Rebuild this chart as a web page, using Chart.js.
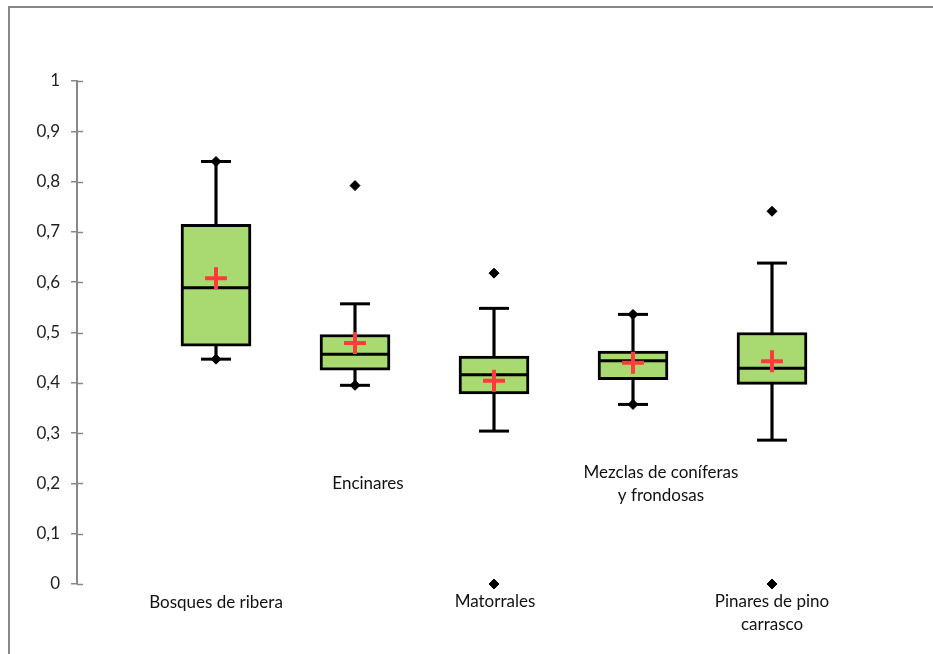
<!DOCTYPE html>
<html>
<head>
<meta charset="utf-8">
<script src="https://cdn.jsdelivr.net/npm/chart.js@4/dist/chart.umd.min.js"></script>
<style>
  html, body { margin: 0; padding: 0; background: #ffffff; }
  #wrap { width: 933px; height: 654px; position: relative; }
</style>
</head>
<body>
<div id="wrap"><canvas id="chart" width="933" height="654"></canvas></div>
<script>
// Box-plot statistics per forest type
const categories = ['Bosques de ribera', 'Encinares', 'Matorrales', 'Mezclas de coníferas\ny frondosas', 'Pinares de pino\ncarrasco'];
const positions = [1, 2, 3, 4, 5];
const minima = [0.447, 0.395, 0.000, 0.357, 0.000];
const whiskerLow = [0.447, 0.395, 0.304, 0.357, 0.286];
const q1 = [0.473, 0.425, 0.378, 0.406, 0.397];
const medians = [0.589, 0.457, 0.416, 0.444, 0.429];
const q3 = [0.715, 0.496, 0.453, 0.463, 0.500];
const whiskerHigh = [0.840, 0.557, 0.548, 0.536, 0.638];
const maxima = [0.840, 0.792, 0.618, 0.536, 0.741];
const means = [0.608, 0.479, 0.404, 0.440, 0.443];
const tickLabels = ['0', '0,1', '0,2', '0,3', '0,4', '0,5', '0,6', '0,7', '0,8', '0,9', '1'];

const FONT = 'Lato, "Open Sans", sans-serif';
const AXIS_GREY = '#888888';

const pts = (vals) => positions.map((x, i) => ({ x: x, y: vals[i] }));
const ranges = (lo, hi) => positions.map((x, i) => ({ x: x, y: [lo[i], hi[i]] }));

// Frame around the figure, crossing axis ticks and category captions
const decorations = {
  id: 'decorations',
  beforeDraw(chart) {
    const ctx = chart.ctx;
    ctx.save();
    ctx.strokeStyle = AXIS_GREY;
    ctx.lineWidth = 2;
    ctx.beginPath();
    ctx.moveTo(9, chart.height);
    ctx.lineTo(9, 7);
    ctx.lineTo(chart.width, 7);
    ctx.stroke();
    ctx.restore();
  },
  afterDraw(chart, args, opts) {
    const ctx = chart.ctx;
    const xs = chart.scales.x, ys = chart.scales.y;
    ctx.save();
    // inner half of each y tick
    ctx.strokeStyle = AXIS_GREY;
    ctx.lineWidth = 1.5;
    const ax = chart.chartArea.left;
    ys.ticks.forEach(t => {
      const py = Math.round(ys.getPixelForValue(t.value)) + 0.5;
      ctx.beginPath();
      ctx.moveTo(ax, py);
      ctx.lineTo(ax + 6, py);
      ctx.stroke();
    });
    // category captions
    ctx.fillStyle = '#111111';
    ctx.font = '17px ' + FONT;
    ctx.textAlign = 'center';
    ctx.textBaseline = 'middle';
    categories.forEach((name, i) => {
      const place = opts.placement[i];
      const cx = xs.getPixelForValue(positions[i]) + place.dx;
      const cy = ys.getPixelForValue(place.y);
      name.split('\n').forEach((line, k) => ctx.fillText(line, cx, cy + k * 23));
    });
    ctx.restore();
  }
};

new Chart(document.getElementById('chart'), {
  type: 'bar',
  data: {
    datasets: [
      { // whisker stems
        type: 'bar', data: ranges(whiskerLow, whiskerHigh), grouped: false,
        barThickness: 2.5, backgroundColor: '#000000', borderWidth: 0, order: 6
      },
      { // interquartile boxes
        type: 'bar', data: ranges(q1, q3), grouped: false,
        barThickness: 70, backgroundColor: '#a9d971', borderColor: '#000000',
        borderWidth: 3, borderSkipped: false, order: 5
      },
      { // whisker caps
        type: 'scatter', data: pts(whiskerHigh).concat(pts(whiskerLow)),
        pointStyle: 'line', radius: 15, borderColor: '#000000', borderWidth: 3, order: 4
      },
      { // medians
        type: 'scatter', data: pts(medians),
        pointStyle: 'line', radius: 34, borderColor: '#000000', borderWidth: 3, order: 3
      },
      { // minimum and maximum
        type: 'scatter', data: pts(minima).concat(pts(maxima)), clip: false,
        pointStyle: 'rectRot', radius: 5, backgroundColor: '#000000', borderColor: '#000000', borderWidth: 1, order: 2
      },
      { // means
        type: 'scatter', data: pts(means),
        pointStyle: 'cross', radius: 11, borderColor: '#ff3b3b', borderWidth: 4, order: 1
      }
    ]
  },
  options: {
    responsive: false,
    animation: false,
    events: [],
    layout: { autoPadding: false, padding: { top: 81, right: 22, bottom: 70, left: 0 } },
    plugins: {
      legend: { display: false },
      tooltip: { enabled: false },
      decorations: {
        placement: [
          { dx: 0, y: -0.037 },
          { dx: 13, y: 0.199 },
          { dx: 1, y: -0.035 },
          { dx: 28, y: 0.221 },
          { dx: 0, y: -0.035 }
        ]
      }
    },
    scales: {
      x: { type: 'linear', min: 0, max: 6, offset: false, display: false },
      y: {
        min: 0, max: 1,
        afterFit(scale) { scale.width = 77; },
        afterBuildTicks(scale) { scale.ticks = tickLabels.map((_, i) => ({ value: i / 10 })); },
        ticks: {
          padding: 11,
          color: '#222222',
          font: { family: FONT, size: 17 },
          callback: (v, i) => tickLabels[i]
        },
        grid: { drawOnChartArea: false, drawTicks: true, tickLength: 6, color: AXIS_GREY, lineWidth: 1.5 },
        border: { color: AXIS_GREY, width: 2 }
      }
    }
  },
  plugins: [decorations]
});
</script>
</body>
</html>
